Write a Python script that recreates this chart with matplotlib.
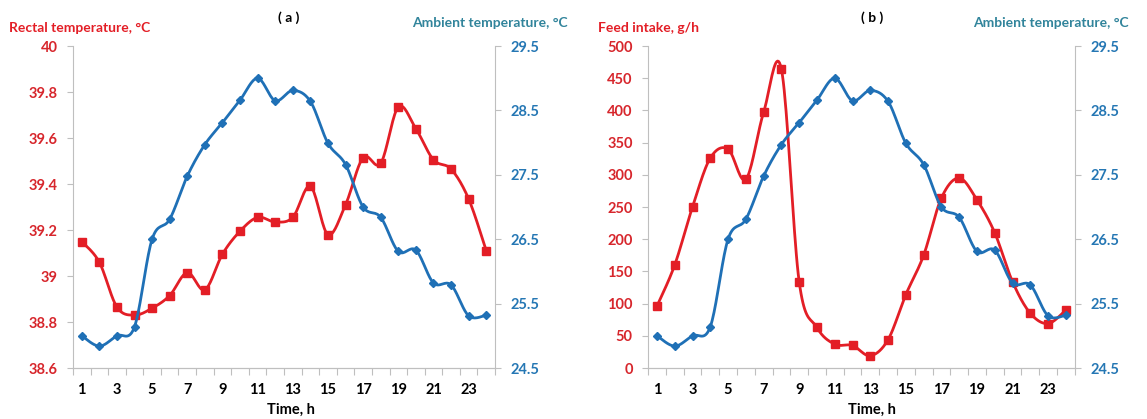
import numpy as np
import matplotlib
matplotlib.use("Agg")
import matplotlib.pyplot as plt

# hours of the day
hours = list(range(1, 25))

# panel (a) rectal temperature, °C
rectal_temp = [39.15, 39.06, 38.865, 38.83, 38.86, 38.915, 39.015, 38.94,
               39.095, 39.195, 39.255, 39.235, 39.255, 39.39, 39.18, 39.31,
               39.515, 39.49, 39.735, 39.64, 39.505, 39.465, 39.335, 39.11]

# panel (b) feed intake, g/h
feed_intake = [96, 160, 250, 326, 340, 293, 397, 464, 134, 63, 37, 35,
               19, 44, 114, 175, 264, 295, 261, 210, 134, 85, 69, 90]

# ambient temperature, °C (same on both panels)
ambient_temp = [25.0, 24.84, 25.0, 25.14, 26.5, 26.81, 27.48, 27.97, 28.31,
                28.66, 29.0, 28.65, 28.81, 28.64, 27.99, 27.66, 27.0, 26.84,
                26.31, 26.33, 25.82, 25.79, 25.31, 25.32]

x_labels = [str(h) if h % 2 == 1 else "" for h in hours]

RED = "#E31E26"
RED_TXT = "#D7262C"
BLUE = "#1F70B6"
BLUE_TXT = "#2577B4"
TEAL = "#31849B"
GRAY = "#BFBFBF"

plt.rcParams['font.family'] = ['Lato', 'DejaVu Sans']
plt.rcParams['font.weight'] = 'bold'


def smooth(x, y, n=20):
    # Excel style smoothed line: cubic bezier through each pair of points
    x = np.asarray(x, float)
    y = np.asarray(y, float)
    px = np.concatenate([[x[0]], x, [x[-1]]])
    py = np.concatenate([[y[0]], y, [y[-1]]])
    t = np.linspace(0, 1, n)[:, None]
    xs, ys = [], []
    for i in range(1, len(x)):
        p0 = np.array([px[i], py[i]])
        p3 = np.array([px[i + 1], py[i + 1]])
        c1 = p0 + (p3 - np.array([px[i - 1], py[i - 1]])) / 6
        c2 = p3 - (np.array([px[i + 2], py[i + 2]]) - p0) / 6
        pts = ((1 - t) ** 3) * p0 + 3 * ((1 - t) ** 2) * t * c1 \
            + 3 * (1 - t) * t ** 2 * c2 + t ** 3 * p3
        xs.extend(pts[:, 0])
        ys.extend(pts[:, 1])
    return xs, ys


def style_axis(ax, side_color):
    for s in ax.spines.values():
        s.set_color(GRAY)
    ax.spines['top'].set_visible(False)
    ax.tick_params(axis='y', colors=GRAY, length=4, width=0.8, pad=7,
                   labelsize=10.5, labelcolor=side_color)
    for lab in ax.get_yticklabels():
        lab.set_fontweight('bold')


def draw_panel(rect, left_vals, left_lim, left_ticks, left_fmt):
    ax = fig.add_axes(rect)
    ax2 = ax.twinx()

    lx, ly = smooth(hours, left_vals)
    ax.plot(lx, ly, color=RED, lw=2.0, zorder=2)
    ax.plot(hours, left_vals, ls='none', marker='s', ms=5.5, color=RED, zorder=3)

    bx, by = smooth(hours, ambient_temp)
    ax2.plot(bx, by, color=BLUE, lw=2.0)
    ax2.plot(hours, ambient_temp, ls='none', marker='D', ms=4.2, color=BLUE)

    ax.set_xlim(0.5, 24.5)
    ax.set_ylim(*left_lim)
    ax.set_yticks(left_ticks)
    ax.set_yticklabels([left_fmt(v) for v in left_ticks])
    ax2.set_ylim(24.5, 29.5)
    ax2.set_yticks([24.5, 25.5, 26.5, 27.5, 28.5, 29.5])

    style_axis(ax, RED_TXT)
    style_axis(ax2, BLUE_TXT)
    ax2.spines['left'].set_visible(False)
    ax.spines['right'].set_visible(False)

    # category ticks between hours, labels on odd hours
    ax.set_xticks(hours)
    ax.set_xticklabels(x_labels)
    ax.set_xticks(np.arange(0.5, 25, 1), minor=True)
    ax.tick_params(axis='x', which='major', length=0, pad=11, labelsize=10.5,
                   labelcolor='black')
    ax.tick_params(axis='x', which='minor', length=5, width=0.8, color=GRAY)
    for lab in ax.get_xticklabels():
        lab.set_fontweight('bold')
    return ax


fig = plt.figure(figsize=(11.47, 4.19), dpi=100)

bottom = 0.1217
height = 0.7685

draw_panel([0.0636, bottom, 0.368, height], rectal_temp, (38.6, 40),
           [38.6, 38.8, 39.0, 39.2, 39.4, 39.6, 39.8, 40.0],
           lambda v: ("%.1f" % v).rstrip('0').rstrip('.'))
draw_panel([0.565, bottom, 0.372, height], feed_intake, (0, 500),
           list(range(0, 501, 50)), lambda v: str(v))

# headings
fig.text(0.008, 0.934, "Rectal temperature, °C", color=RED, fontsize=10,
         fontweight='bold', va='center', ha='left')
fig.text(0.252, 0.958, "( a )", color='black', fontsize=10,
         fontweight='bold', va='center', ha='center')
fig.text(0.495, 0.946, "Ambient temperature, °C", color=TEAL, fontsize=10,
         fontweight='bold', va='center', ha='right')
fig.text(0.2535, 0.022, "Time, h", color='black', fontsize=10.5,
         fontweight='bold', va='center', ha='center')

fig.text(0.521, 0.934, "Feed intake, g/h", color=RED, fontsize=10,
         fontweight='bold', va='center', ha='left')
fig.text(0.760, 0.958, "( b )", color='black', fontsize=10,
         fontweight='bold', va='center', ha='center')
fig.text(0.984, 0.946, "Ambient temperature, °C", color=TEAL, fontsize=10,
         fontweight='bold', va='center', ha='right')
fig.text(0.760, 0.022, "Time, h", color='black', fontsize=10.5,
         fontweight='bold', va='center', ha='center')

fig.savefig("out.png", dpi=100)
